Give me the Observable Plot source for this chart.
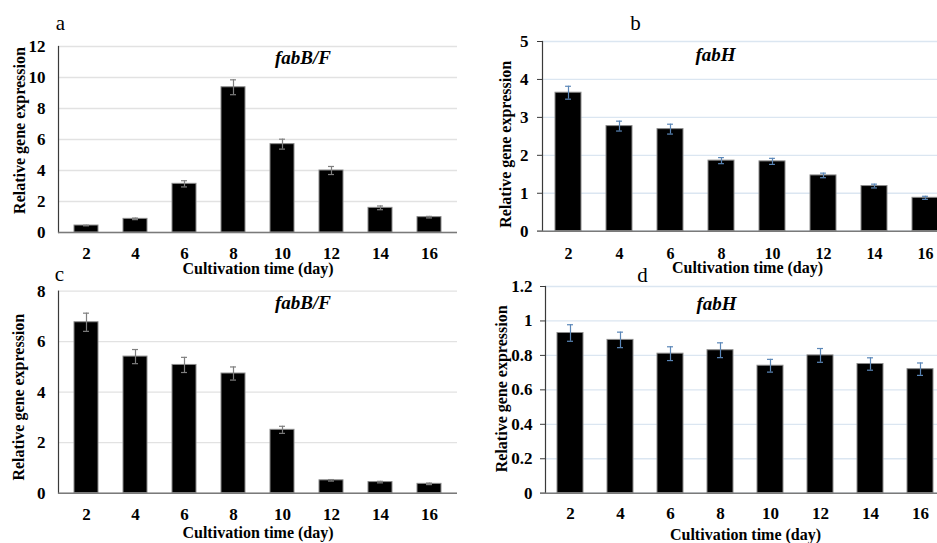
<!DOCTYPE html>
<html>
<head>
<meta charset="utf-8">
<script src="https://cdn.jsdelivr.net/npm/d3@7"></script>
<script src="https://cdn.jsdelivr.net/npm/@observablehq/plot@0.6"></script>
<style>
  html, body { margin: 0; padding: 0; background: #fff; overflow: hidden; }
  #wrap { position: relative; width: 937px; height: 543px; overflow: hidden; background: #fff; }
  #wrap svg { position: absolute; }
  #wrap svg text, #wrap svg tspan { font-family: "Liberation Serif", "Times New Roman", serif !important; }
</style>
</head>
<body>
<div id="wrap"></div>
<script>
// ---- data ----
const days = [2, 4, 6, 8, 10, 12, 14, 16];

const fabBF_a = [0.45, 0.88, 3.14, 9.37, 5.70, 4.00, 1.59, 0.99];
const fabBF_a_err = [0.02, 0.05, 0.20, 0.48, 0.32, 0.26, 0.12, 0.05];

const fabH_b = [3.65, 2.77, 2.69, 1.86, 1.84, 1.47, 1.19, 0.88];
const fabH_b_err = [0.17, 0.13, 0.13, 0.08, 0.08, 0.06, 0.05, 0.04];

const fabBF_c = [6.77, 5.41, 5.08, 4.74, 2.51, 0.51, 0.44, 0.37];
const fabBF_c_err = [0.36, 0.28, 0.30, 0.26, 0.14, 0.03, 0.03, 0.03];

const fabH_d = [0.93, 0.89, 0.81, 0.83, 0.74, 0.80, 0.75, 0.72];
const fabH_d_err = [0.048, 0.045, 0.040, 0.043, 0.037, 0.040, 0.036, 0.036];

const ticksA = [0, 2, 4, 6, 8, 10, 12];
const ticksB = [0, 1, 2, 3, 4, 5];
const ticksC = [0, 2, 4, 6, 8];
const ticksD = [0, 0.2, 0.4, 0.6, 0.8, 1, 1.2];

const xTitle = "Cultivation time (day)";
const yTitle = "Relative gene expression";
const FONT = "Liberation Serif";

function panel(o) {
  const data = days.map((d, i) => ({day: d, v: o.values[i], e: o.errs[i]}));
  const fw = o.width - o.ml - o.mr;
  const bw = fw / days.length * (1 - o.pi);
  const capInset = Math.max(0, (bw - 6) / 2);
  const plot = Plot.plot({
    width: o.width,
    height: o.height,
    marginLeft: o.ml, marginRight: o.mr, marginTop: o.mt, marginBottom: o.mb,
    style: {fontFamily: FONT, fontSize: "16px", fontWeight: "bold", background: "transparent", overflow: "visible", color: "#000"},
    x: {type: "band", domain: days, paddingInner: o.pi, paddingOuter: o.pi / 2, axis: null},
    y: {domain: o.yDomain, axis: null},
    marks: [
      Plot.gridY(o.ticks, {stroke: o.gridColor, strokeOpacity: 1, strokeWidth: 1.3}),
      Plot.barY(data, {x: "day", y: "v", fill: "black", stroke: "#8a8a8a", strokeWidth: 1}),
      Plot.ruleX(data, {x: "day", y1: d => d.v - d.e, y2: d => d.v + d.e, stroke: o.errColor, strokeWidth: 1.2}),
      Plot.tickY(data, {x: "day", y: d => d.v + d.e, stroke: o.errColor, strokeWidth: 1.2, insetLeft: capInset, insetRight: capInset}),
      Plot.tickY(data, {x: "day", y: d => d.v - d.e, stroke: o.errColor, strokeWidth: 1.2, insetLeft: capInset, insetRight: capInset}),
      Plot.frame({anchor: "left", stroke: "#3a3a3a", strokeWidth: 1.2}),
      Plot.axisY(o.ticks, {tickSize: o.tickSize, tickPadding: o.tickPadding, stroke: "#3a3a3a", tickFormat: d => String(+d.toFixed(1)), label: null, fontSize: 17, fontWeight: "bold", fontFamily: FONT}),
      Plot.ruleY([0], {stroke: "#7a7a7a", strokeWidth: 1.6, insetLeft: -o.tickSize}),
      Plot.axisX({tickSize: 0, tickPadding: o.xTickPadding, label: null, fontSize: o.xTickFont, fontWeight: "bold", fontFamily: FONT}),
      Plot.text([xTitle], {frameAnchor: "bottom", textAnchor: "middle", lineAnchor: "middle", dy: o.xtDy, fontSize: 16, fontWeight: "bold", fontFamily: FONT}),
      Plot.text([yTitle], {frameAnchor: "left", textAnchor: "middle", lineAnchor: "middle", rotate: -90, dx: o.ytDx, dy: o.ytDy, fontSize: 16, fontWeight: "bold", fontFamily: FONT}),
      Plot.text([o.gene], {frameAnchor: "top", textAnchor: "middle", lineAnchor: "middle", dx: o.gDx, dy: o.gDy, fontSize: 19, fontWeight: "bold", fontStyle: "italic", fontFamily: FONT}),
      Plot.text([o.letter], {frameAnchor: "top-left", textAnchor: "middle", lineAnchor: "middle", dx: o.lDx, dy: o.lDy, fontSize: 21, fontWeight: "normal", fontFamily: FONT})
    ]
  });
  plot.style.left = o.left + "px";
  plot.style.top = o.top + "px";
  plot.style.maxWidth = "none";
  document.getElementById("wrap").appendChild(plot);
}

// panel a
panel({
  values: fabBF_a, errs: fabBF_a_err, yDomain: [0, 12], ticks: ticksA,
  left: 0, top: 0, width: 470, height: 280, ml: 58, mr: 13, mt: 46, mb: 48,
  pi: 0.52, tickSize: 0, tickPadding: 13, xTickPadding: 14, xTickFont: 17,
  gridColor: "#e2e2e2", errColor: "#7f7f7f",
  gene: "fabB/F", gDx: 45, gDy: 11,
  letter: "a", lDx: 2, lDy: -23,
  xtDy: 36, ytDx: -39, ytDy: -9
});

// panel b
panel({
  values: fabH_b, errs: fabH_b_err, yDomain: [0, 5], ticks: ticksB,
  left: 470, top: 0, width: 482, height: 280, ml: 72, mr: 0, mt: 41, mb: 49.3,
  pi: 0.49, tickSize: 5, tickPadding: 9, xTickPadding: 16, xTickFont: 16,
  gridColor: "#dbe6f1", errColor: "#5b87b8",
  gene: "fabH", gDx: -32, gDy: 13,
  letter: "b", lDx: 93, lDy: -18,
  xtDy: 37, ytDx: -37, ytDy: 8
});

// panel c
panel({
  values: fabBF_c, errs: fabBF_c_err, yDomain: [0, 8], ticks: ticksC,
  left: 0, top: 250, width: 470, height: 293, ml: 58, mr: 13, mt: 40.7, mb: 50.3,
  pi: 0.52, tickSize: 0, tickPadding: 13, xTickPadding: 15, xTickFont: 17,
  gridColor: "#e2e2e2", errColor: "#7f7f7f",
  gene: "fabB/F", gDx: 45, gDy: 12,
  letter: "c", lDx: 1, lDy: -17,
  xtDy: 40, ytDx: -40, ytDy: 5
});

// panel d
panel({
  values: fabH_d, errs: fabH_d_err, yDomain: [0, 1.2], ticks: ticksD,
  left: 470, top: 250, width: 477, height: 293, ml: 75, mr: 2, mt: 36, mb: 50.3,
  pi: 0.48, tickSize: 5, tickPadding: 8, xTickPadding: 14, xTickFont: 17,
  gridColor: "#dbe6f1", errColor: "#5b87b8",
  gene: "fabH", gDx: -29, gDy: 17,
  letter: "d", lDx: 97, lDy: -11,
  xtDy: 42, ytDx: -44, ytDy: -1
});
</script>
</body>
</html>
